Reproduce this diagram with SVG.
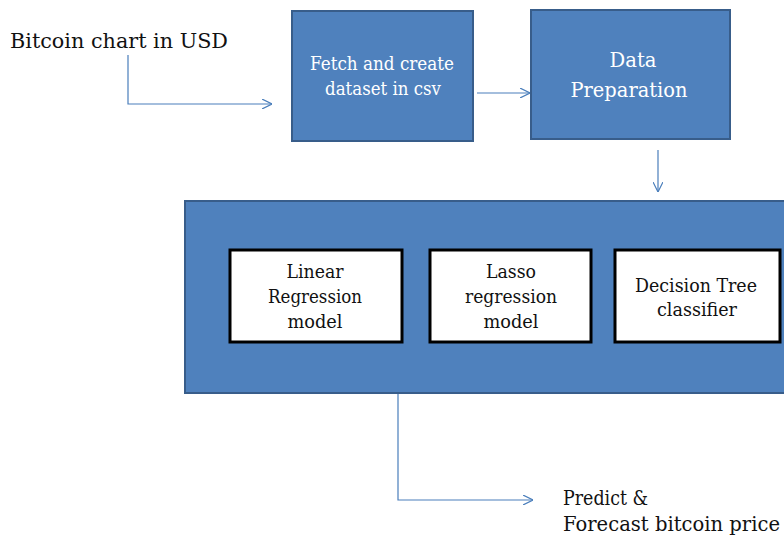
<svg xmlns="http://www.w3.org/2000/svg" width="784" height="535" viewBox="0 0 784 535">
<style>
.blue{fill:#4F81BD;stroke:#385D8A;stroke-width:2}
.white{fill:#fff;stroke:#000;stroke-width:3}
text{font-family:'DejaVu Serif','Liberation Serif',serif}
.wt{fill:#fff;text-anchor:middle}
.bt{fill:#111;text-anchor:middle;font-size:18px}
.lt{fill:#111;font-size:20px}
.conn{fill:none;stroke:#4A7EBB;stroke-width:1.2}
</style>
<defs>
<marker id="arr" viewBox="0 0 10 10" refX="10" refY="5" markerWidth="10" markerHeight="10" markerUnits="userSpaceOnUse" orient="auto">
<path d="M0,0 L10,5 L0,10" fill="none" stroke="#4A7EBB" stroke-width="1.2"/>
</marker>
</defs>
<rect width="784" height="535" fill="#fff"/>
<g id="input"><text class="lt" x="10" y="48" textLength="218" lengthAdjust="spacingAndGlyphs">Bitcoin chart in USD</text></g>
<g id="fetch"><rect class="blue" x="292" y="11" width="181" height="130"/>
<text class="wt" font-size="18" x="382" y="70" textLength="144" lengthAdjust="spacingAndGlyphs">Fetch and create</text>
<text class="wt" font-size="18" x="383" y="95" textLength="116" lengthAdjust="spacingAndGlyphs">dataset in csv</text></g>
<g id="prep"><rect class="blue" x="531" y="10" width="199" height="129"/>
<text class="wt" font-size="21" x="633" y="67" textLength="47" lengthAdjust="spacingAndGlyphs">Data</text>
<text class="wt" font-size="21" x="629" y="97" textLength="117" lengthAdjust="spacingAndGlyphs">Preparation</text></g>
<g id="models"><rect class="blue" x="185" y="201" width="610" height="192"/></g>
<g id="linear"><rect class="white" x="230" y="250" width="172" height="92"/>
<text class="bt" x="315" y="278" textLength="57" lengthAdjust="spacingAndGlyphs">Linear</text>
<text class="bt" x="315" y="303" textLength="94" lengthAdjust="spacingAndGlyphs">Regression</text>
<text class="bt" x="315" y="328" textLength="55" lengthAdjust="spacingAndGlyphs">model</text></g>
<g id="lasso"><rect class="white" x="430" y="250" width="161" height="92"/>
<text class="bt" x="511" y="278" textLength="50" lengthAdjust="spacingAndGlyphs">Lasso</text>
<text class="bt" x="511" y="303" textLength="92" lengthAdjust="spacingAndGlyphs">regression</text>
<text class="bt" x="511" y="328" textLength="55" lengthAdjust="spacingAndGlyphs">model</text></g>
<g id="tree"><rect class="white" x="615" y="250" width="165" height="92"/>
<text class="bt" x="696" y="292" textLength="122" lengthAdjust="spacingAndGlyphs">Decision Tree</text>
<text class="bt" x="697" y="316" textLength="80" lengthAdjust="spacingAndGlyphs">classifier</text></g>
<g id="output"><text class="lt" x="563" y="505" textLength="85" lengthAdjust="spacingAndGlyphs">Predict &amp;</text>
<text class="lt" x="563" y="531" textLength="217" lengthAdjust="spacingAndGlyphs">Forecast bitcoin price</text></g>
<g id="connectors">
<path class="conn" d="M128,55 V104 H272" marker-end="url(#arr)"/>
<path class="conn" d="M477,93 H530" marker-end="url(#arr)"/>
<path class="conn" d="M658,150 V192" marker-end="url(#arr)"/>
<path class="conn" d="M398,394 V500 H533" marker-end="url(#arr)"/>
</g>
</svg>
